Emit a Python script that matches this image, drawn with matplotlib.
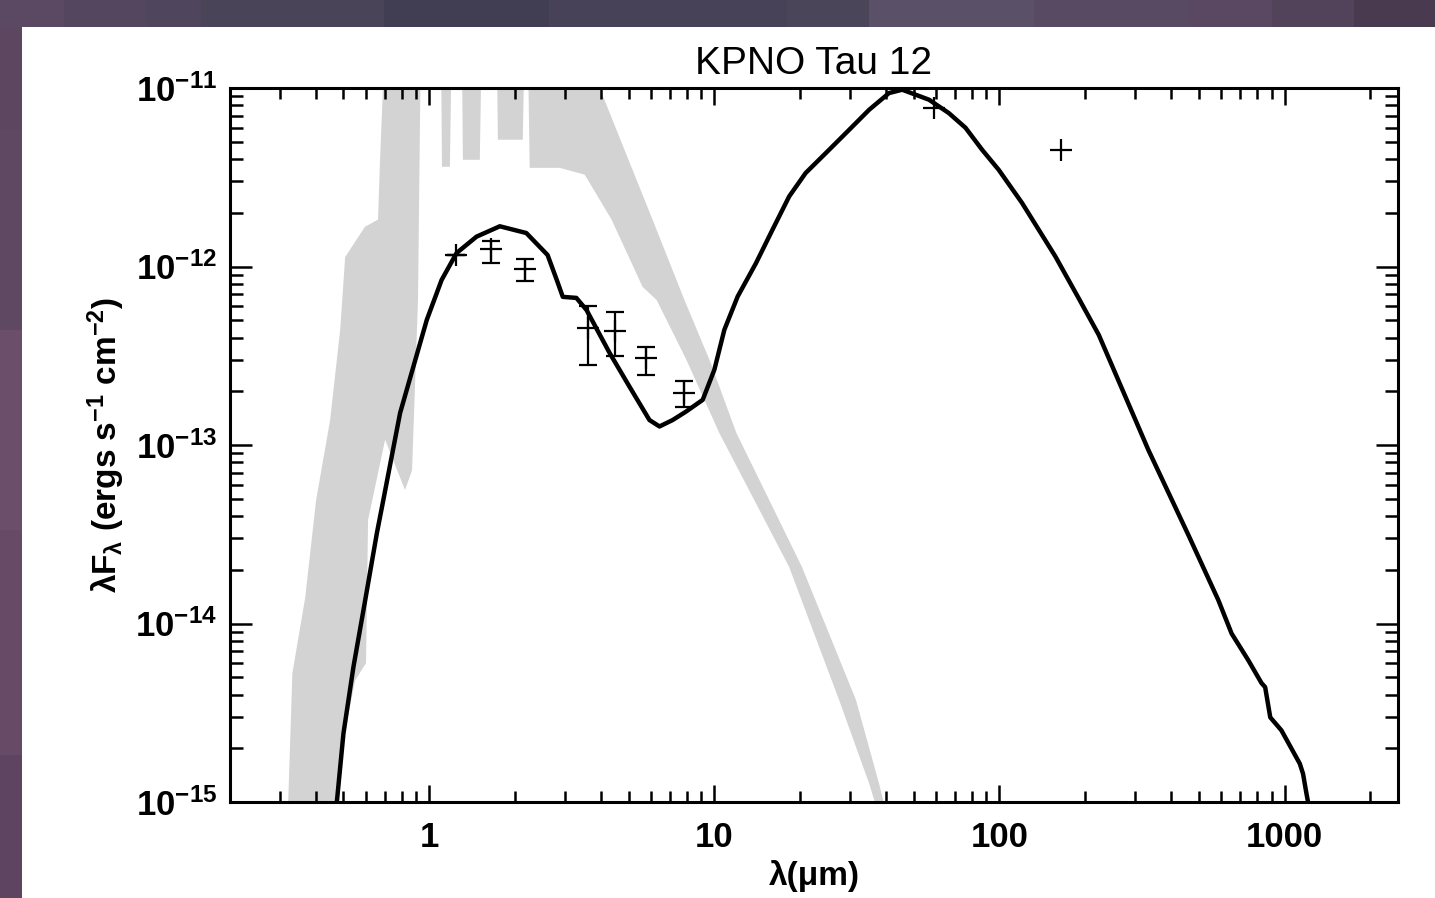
import matplotlib

matplotlib.use("Agg")
import matplotlib.pyplot as plt
import numpy as np
from matplotlib.patches import Rectangle
from matplotlib.ticker import FixedLocator, LogLocator, NullFormatter

plt.rcParams["font.family"] = ["Liberation Sans", "DejaVu Sans"]
plt.rcParams["mathtext.fontset"] = "custom"
plt.rcParams["mathtext.rm"] = "Liberation Sans:bold"
plt.rcParams["mathtext.it"] = "Liberation Sans:bold"
plt.rcParams["mathtext.bf"] = "Liberation Sans:bold"
plt.rcParams["mathtext.sf"] = "Liberation Sans:bold"

# disk + envelope model SED (microns, erg s^-1 cm^-2)
model_lam = [0.474, 0.50, 0.542, 0.596, 0.655, 0.690, 0.790, 0.98, 1.105, 1.247,
             1.465, 1.768, 2.19, 2.60, 2.80, 2.94, 3.28, 3.56, 4.29, 5.04,
             5.92, 6.42, 7.14, 7.96, 9.10, 10.0, 10.84, 12.07, 14.0, 16.0,
             18.3, 20.9, 24.6, 29.7, 34.9, 41.0, 45.6, 56.6, 66.4, 76.0,
             86.9, 99.4, 120, 157, 190, 223, 333, 460, 586, 652, 746,
             830, 855, 891, 975, 1131, 1161, 1193, 1209]
model_flux = [1.0e-15, 2.42e-15, 5.71e-15, 1.35e-14, 3.21e-14, 4.92e-14, 1.51e-13, 5.02e-13, 8.41e-13, 1.19e-12,
              1.47e-12, 1.68e-12, 1.54e-12, 1.16e-12, 8.41e-13, 6.76e-13, 6.67e-13, 5.71e-13, 3.28e-13, 2.12e-13,
              1.38e-13, 1.27e-13, 1.38e-13, 1.54e-13, 1.79e-13, 2.64e-13, 4.42e-13, 6.79e-13, 1.045e-12, 1.61e-12,
              2.47e-12, 3.34e-12, 4.32e-12, 5.83e-12, 7.55e-12, 9.37e-12, 9.78e-12, 8.60e-12, 7.24e-12, 5.99e-12,
              4.51e-12, 3.48e-12, 2.27e-12, 1.14e-12, 6.6e-13, 4.14e-13, 9.37e-14, 3.13e-14, 1.35e-14, 8.79e-15, 6.23e-15,
              4.64e-15, 4.40e-15, 2.98e-15, 2.52e-15, 1.64e-15, 1.44e-15, 1.12e-15, 1.0e-15]

# photometry with error bars (JHK + IRAC)
phot_lam = [1.24, 1.65, 2.16, 3.6, 4.47, 5.77, 7.85]
phot_flux = [1.16e-12, 1.25e-12, 9.66e-13, 4.51e-13, 4.37e-13, 3.06e-13, 1.95e-13]
phot_err_lo = [0.0, 2.05e-13, 1.34e-13, 1.70e-13, 1.21e-13, 5.9e-14, 3.1e-14]
phot_err_hi = [0.0, 1.47e-13, 1.34e-13, 1.51e-13, 1.22e-13, 4.7e-14, 3.4e-14]

# far-infrared points
far_lam = [58.9, 165]
far_flux = [7.72e-12, 4.51e-12]

# stellar photosphere spectrum, drawn as its envelope
star_upper_lam = [0.305, 0.320, 0.331, 0.367, 0.401, 0.449, 0.487, 0.507, 0.595, 0.661,
                  0.672, 0.70, 3.80, 3.96, 6.07, 7.85, 9.68, 11.94, 20.3, 31.4, 37.8, 40.3]
star_upper_flux = [2.8e-16, 1e-15, 5.27e-15, 1.39e-14, 4.92e-14, 1.38e-13, 4.42e-13, 1.13e-12, 1.67e-12, 1.83e-12,
                   3.96e-12, 2e-11, 2e-11, 1.0e-11, 1.83e-12, 6.5e-13, 2.92e-13, 1.17e-13, 2.07e-14, 3.72e-15,
                   1.27e-15, 8.4e-16]
star_lower_lam = [0.300, 0.468, 0.507, 0.55, 0.60, 0.61, 0.70, 0.822, 0.87, 0.913,
                  0.935, 1.099, 1.108, 1.181, 1.20, 1.30, 1.312, 1.504, 1.529, 1.726,
                  1.74, 2.128, 2.162, 2.215, 2.25, 2.868, 3.51, 4.36, 5.60, 6.27,
                  7.98, 10.4, 18.3, 27.4, 34.9, 37.8]
star_lower_flux = [1e-16, 9e-16, 2.52e-15, 4.81e-15, 6.0e-15, 3.8e-14, 1.07e-13, 5.6e-14, 7.2e-14, 6.5e-13,
                   2e-11, 2e-11, 3.62e-12, 3.62e-12, 2e-11, 2e-11, 3.96e-12, 3.96e-12, 2e-11, 2e-11,
                   5.13e-12, 5.13e-12, 2e-11, 2e-11, 3.57e-12, 3.57e-12, 3.27e-12, 1.83e-12, 7.69e-13, 6.5e-13,
                   3.0e-13, 1.17e-13, 2.07e-14, 3.72e-15, 1.27e-15, 8.4e-16]

x_ticks = [1, 10, 100, 1000]
x_tick_labels = ["1", "10", "100", "1000"]
y_ticks = [1e-15, 1e-14, 1e-13, 1e-12, 1e-11]
y_tick_labels = [r"$10^{-15}$", r"$10^{-14}$", r"$10^{-13}$", r"$10^{-12}$", r"$10^{-11}$"]

# purple mosaic border of the screenshot
top_edges = [0, 64, 146, 201, 384, 549, 787, 869, 1034, 1189, 1272, 1354, 1435]
top_colors = ["#5b4862", "#554660", "#4f465e", "#4a4459", "#413d53", "#474258",
              "#4b455a", "#5a5068", "#574a62", "#5a4862", "#52425a", "#4a3a50"]
left_edges = [27, 130, 330, 530, 755, 898]
left_colors = ["#5c4660", "#5e4862", "#6a4e6a", "#664a66", "#5e4460"]

W, H = 1435, 898
fig = plt.figure(figsize=(W / 100, H / 100), dpi=100, facecolor="white")
for x0, x1, c in zip(top_edges[:-1], top_edges[1:], top_colors):
    fig.add_artist(Rectangle((x0 / W, 1 - 27 / H), (x1 - x0) / W, 27 / H,
                             transform=fig.transFigure, color=c, lw=0))
for y0, y1, c in zip(left_edges[:-1], left_edges[1:], left_colors):
    fig.add_artist(Rectangle((0, 1 - y1 / H), 22 / W, (y1 - y0) / H,
                             transform=fig.transFigure, color=c, lw=0))

ax = fig.add_axes([230 / W, 1 - 802 / H, 1168 / W, 714 / H])
ax.set_xscale("log")
ax.set_yscale("log")
ax.set_xlim(0.2, 2500)
ax.set_ylim(1e-15, 1e-11)

ax.fill(star_upper_lam + star_lower_lam[::-1], star_upper_flux + star_lower_flux[::-1],
        color="#d3d3d3", lw=0, zorder=1)
ax.plot(model_lam, model_flux, color="black", lw=3.2, zorder=2)
ax.errorbar(phot_lam, phot_flux, yerr=[phot_err_lo, phot_err_hi], fmt="+", color="black",
            ms=16, mew=1.6, elinewidth=1.6, capsize=6.5, capthick=1.6, zorder=3)
ax.plot(far_lam, far_flux, "+", color="black", ms=16, mew=1.6, zorder=3)

ax.xaxis.set_major_locator(FixedLocator(x_ticks))
ax.set_xticklabels(x_tick_labels)
ax.xaxis.set_minor_locator(LogLocator(base=10, subs=np.arange(2, 10), numticks=50))
ax.xaxis.set_minor_formatter(NullFormatter())
ax.yaxis.set_major_locator(FixedLocator(y_ticks))
ax.set_yticklabels(y_tick_labels)
ax.yaxis.set_minor_locator(LogLocator(base=10, subs=np.arange(2, 10), numticks=50))
ax.yaxis.set_minor_formatter(NullFormatter())

for side in ax.spines.values():
    side.set_linewidth(2.2)
ax.tick_params(which="both", direction="in", top=True, right=True, width=1.8)
ax.tick_params(axis="x", which="major", length=12, pad=14)
ax.tick_params(axis="x", which="minor", length=8)
ax.tick_params(axis="y", which="major", length=16, pad=9)
ax.tick_params(axis="y", which="minor", length=9.5)
for lab in ax.get_xticklabels():
    lab.set_fontsize(25)
    lab.set_fontweight("bold")
for lab in ax.get_yticklabels():
    lab.set_fontsize(25)

ax.set_title("KPNO Tau 12", fontsize=28, pad=10)
ax.set_xlabel("λ(μm)", fontsize=24, fontweight="bold", labelpad=4)
ax.set_ylabel(r"$\lambda F_\lambda$ (ergs s$^{-1}$ cm$^{-2}$)", fontsize=24,
              fontweight="bold", labelpad=6)

fig.savefig("out.png", dpi=100, facecolor=fig.get_facecolor())
